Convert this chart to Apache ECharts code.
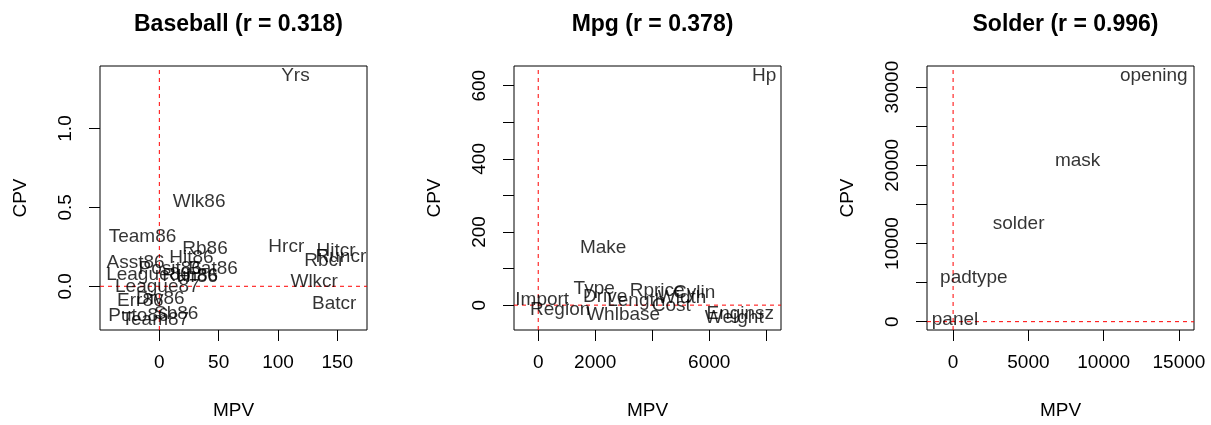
<!DOCTYPE html>
<html>
<head>
<meta charset="utf-8">
<script src="https://cdn.jsdelivr.net/npm/echarts@6/dist/echarts.min.js"></script>
<style>
html,body{margin:0;padding:0;background:#fff;}
#c{width:1211px;height:425px;}
</style>
</head>
<body>
<div id="c"></div>
<script>
// ---- Data ----
const titles = ['Baseball (r = 0.318)', 'Mpg (r = 0.378)', 'Solder (r = 0.996)'];

const baseballNames = ['Yrs','Wlk86','Team86','Rb86','Hit86','Hrcr','Hitcr','Runcr','Rbcr','Wlkcr','Batcr','Asst86','Posit86','Bat86','League86','Run86','Hr86','League87','Err86','Div86','Puto86','Team87','Sb86'];
const baseballMPV = [114.7, 33.5, -14.2, 38.5, 27, 107, 149, 153, 139, 130.5, 147.3, -20, 9.2, 45.2, -9.2, 26, 32, -1.7, -16, 0.8, -17.6, -3.4, 14.2];
const baseballCPV = [1.333, 0.535, 0.314, 0.239, 0.183, 0.252, 0.226, 0.189, 0.164, 0.031, -0.113, 0.151, 0.113, 0.113, 0.075, 0.069, 0.06, 0.0, -0.094, -0.082, -0.189, -0.214, -0.176];

const mpgNames = ['Hp','Make','Type','Drive','Import','Region','Whlbase','Length','Rprice','Cylin','Width','Cost','Enginsz','Weight'];
const mpgMPV = [7930, 2280, 1965, 2350, 140, 770, 2980, 3440, 4175, 5470, 5050, 4670, 7090, 6880];
const mpgCPV = [627, 157, 46, 24, 16, -14, -27, 11, 38, 35, 19, -3, -24, -35];

const solderNames = ['opening','mask','solder','padtype','panel'];
const solderMPV = [13330, 8270, 4350, 1380, 130];
const solderCPV = [31440, 20630, 12500, 5630, 300];

const xTicks = [[0,50,100,150],[0,2000,4000,6000,8000],[0,5000,10000,15000]];
const xTickLabels = [[0,50,100,150],[0,2000,6000],[0,5000,10000,15000]];
const yTicks = [[0,0.5,1.0],[0,100,200,300,400,500,600],[0,5000,10000,15000,20000,25000,30000]];
const yTickLabels = [[0,0.5,1.0],[0,200,400,600],[0,10000,20000,30000]];
const xRanges = [[-50,175],[-850,8520],[-1733,16000]];
const yRanges = [[-0.277,1.396],[-68,654],[-1068,32710]];
const refX = [0, 0, 0];
const refY = [0, 0, 0];

// ---- Layout ----
const FONT = 'Liberation Sans, Arial, Helvetica, sans-serif';
const gridLefts = [100, 514, 927];
const gridW = 267, gridTop = 66, gridH = 266;
const yFmt = [v => v.toFixed(1), v => String(v), v => String(v)];

const panels = [
  [baseballNames, baseballMPV, baseballCPV],
  [mpgNames, mpgMPV, mpgCPV],
  [solderNames, solderMPV, solderCPV]
];

function refLine(i, data) {
  return {
    type: 'line', xAxisIndex: i, yAxisIndex: i, silent: true,
    color: '#ff0000',
    symbol: 'none', showSymbol: false,
    lineStyle: {color: '#ff0000', type: [4, 4], width: 1, opacity: 1},
    itemStyle: {color: '#ff0000'},
    emphasis: {disabled: true},
    data: data, z: 2
  };
}

const series = [];
panels.forEach((p, i) => {
  series.push({
    type: 'scatter',
    xAxisIndex: i, yAxisIndex: i,
    symbolSize: 1,
    itemStyle: {color: 'rgba(0,0,0,0)'},
    data: p[0].map((n, k) => ({name: n, value: [p[1][k], p[2][k]]})),
    label: {
      show: true, position: 'inside', formatter: '{b}',
      fontFamily: FONT, fontSize: 19, color: '#000'
    },
    labelLayout: {hideOverlap: false},
    emphasis: {disabled: true},
    silent: true,
    z: 3
  });
  series.push(refLine(i, [[refX[i], yRanges[i][0]], [refX[i], yRanges[i][1]]]));
  series.push(refLine(i, [[xRanges[i][0], refY[i]], [xRanges[i][1], refY[i]]]));
});

const option = {
  animation: false,
  backgroundColor: '#fff',
  title: titles.map((t, i) => ({
    text: t,
    left: gridLefts[i] + gridW / 2,
    top: 8,
    textAlign: 'center',
    textStyle: {fontFamily: FONT, fontWeight: 'bold', fontSize: 23, color: '#000'}
  })),
  grid: gridLefts.map(l => ({
    left: l, top: gridTop, width: gridW, height: gridH,
    show: true, borderColor: '#000', borderWidth: 1, backgroundColor: 'transparent'
  })),
  xAxis: [0,1,2].map(i => ({
    type: 'value', gridIndex: i,
    min: xRanges[i][0], max: xRanges[i][1],
    name: 'MPV', nameLocation: 'middle', nameGap: 71,
    nameTextStyle: {fontFamily: FONT, fontSize: 19, color: '#000'},
    splitLine: {show: false},
    axisLine: {show: false, onZero: false},
    axisTick: {show: true, inside: false, length: 11, customValues: xTicks[i], lineStyle: {color: '#000', width: 1}},
    axisLabel: {show: true, margin: 23, customValues: xTickLabels[i], fontFamily: FONT, fontSize: 19, color: '#000', formatter: v => String(v)}
  })),
  yAxis: [0,1,2].map(i => ({
    type: 'value', gridIndex: i,
    min: yRanges[i][0], max: yRanges[i][1],
    name: 'CPV', nameLocation: 'middle', nameGap: 70, nameRotate: 90,
    nameTextStyle: {fontFamily: FONT, fontSize: 19, color: '#000'},
    splitLine: {show: false},
    axisLine: {show: false, onZero: false},
    axisTick: {show: true, inside: false, length: 11, customValues: yTicks[i], lineStyle: {color: '#000', width: 1}},
    axisLabel: {show: true, margin: 25, rotate: 90, customValues: yTickLabels[i], fontFamily: FONT, fontSize: 19, color: '#000', formatter: yFmt[i]}
  })),
  series: series
};

const chart = echarts.init(document.getElementById('c'), null, {renderer: 'canvas'});
chart.setOption(option);
</script>
</body>
</html>
